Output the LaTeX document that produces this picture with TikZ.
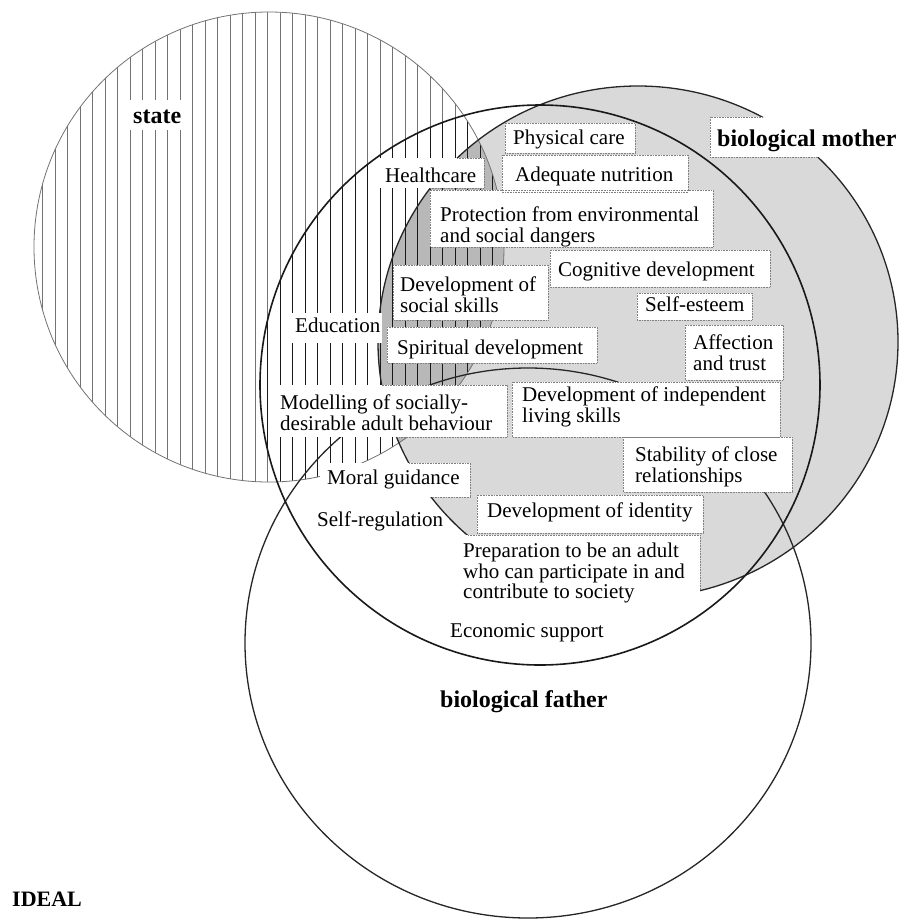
\documentclass[tikz,border=0pt]{standalone}
\usepackage{fontspec}
\setmainfont{Liberation Serif}
\begin{document}
\begin{tikzpicture}[x=1pt,y=-1pt,
  lbl/.style={anchor=north west, inner sep=0pt, align=left, font=\fontsize{21}{20.5}\selectfont},
  boldlbl/.style={anchor=base west, inner sep=0pt, font=\fontsize{24}{26}\selectfont\bfseries},
  wbox/.style={fill=white},
  boxedge/.style={draw=black!50, densely dotted, line width=0.6pt},
  motherfill/.style={fill=black!15},
  bothfill/.style={fill=black!28},
  hatchout/.style={draw=black!55, line width=0.7pt},
  hatchin/.style={draw=black!90, line width=0.9pt},
  stateline/.style={draw=black!55, line width=0.8pt},
  mainline/.style={draw=black!85, line width=1.3pt},
  midline/.style={draw=black!90, line width=1.6pt}]
\useasboundingbox (0,0) rectangle (905,922);
\fill[white] (0,0) rectangle (905,922);

% biological mother: stippled grey area
\fill[motherfill] (638,342) ellipse[x radius=260, y radius=256];
% state and mother overlap: darker
\begin{scope}
  \clip (269,247) circle[radius=235];
  \fill[bothfill] (638,342) ellipse[x radius=260, y radius=256];
\end{scope}

% state: vertical hatching
\begin{scope}
  \clip (269,247) circle[radius=235];
  \foreach \hx in {30,42.5,...,505} {\draw[hatchout] (\hx,0) -- (\hx,500);}
\end{scope}
\begin{scope}
  \clip (269,247) circle[radius=235];
  \clip (540,385) circle[radius=280];
  \foreach \hx in {30,42.5,...,505} {\draw[hatchin] (\hx,0) -- (\hx,500);}
\end{scope}

% outlines
\draw[stateline] (269,247) circle[radius=235];
\draw[mainline] (638,342) ellipse[x radius=260, y radius=256];
\draw[mainline] (528,643) ellipse[x radius=283, y radius=275];
\draw[midline] (540,385) circle[radius=280];

% white label boxes
\fill[wbox] (127,100) rectangle (185,130);
\fill[wbox] (505,123) rectangle (635,153);
\fill[wbox] (710,117) rectangle (905,157);
\fill[wbox] (380,158) rectangle (484,188);
\fill[wbox] (502,155) rectangle (688,192);
\fill[wbox] (430,190) rectangle (713,247);
\fill[wbox] (550,250) rectangle (770,287);
\fill[wbox] (393,265) rectangle (548,320);
\fill[wbox] (637,293) rectangle (752,320);
\fill[wbox] (290,313) rectangle (382,343);
\fill[wbox] (387,327) rectangle (597,363);
\fill[wbox] (685,325) rectangle (783,380);
\fill[wbox] (512,382) rectangle (780,437);
\fill[wbox] (275,385) rectangle (507,437);
\fill[wbox] (623,437) rectangle (792,492);
\fill[wbox] (320,463) rectangle (470,497);
\fill[wbox] (477,495) rectangle (703,533);
\fill[wbox] (455,535) rectangle (700,612);

% dotted box edges where they meet the stipple
\begin{scope}
  \clip (638,342) ellipse[x radius=260, y radius=256];
  \draw[boxedge] (505,123) rectangle (635,153);
  \draw[boxedge] (710,117) rectangle (905,157);
  \draw[boxedge] (380,158) rectangle (484,188);
  \draw[boxedge] (502,155) rectangle (688,192);
  \draw[boxedge] (430,190) rectangle (713,247);
  \draw[boxedge] (550,250) rectangle (770,287);
  \draw[boxedge] (393,265) rectangle (548,320);
  \draw[boxedge] (637,293) rectangle (752,320);
  \draw[boxedge] (387,327) rectangle (597,363);
  \draw[boxedge] (685,325) rectangle (783,380);
  \draw[boxedge] (512,382) rectangle (780,437);
  \draw[boxedge] (275,385) rectangle (507,437);
  \draw[boxedge] (623,437) rectangle (792,492);
  \draw[boxedge] (320,463) rectangle (470,497);
  \draw[boxedge] (477,495) rectangle (703,533);
  \draw[boxedge] (455,535) rectangle (700,612);
\end{scope}

% set labels
\node[boldlbl] (state) at (133,123) {state};
\node[boldlbl] (mother) at (717,146) {biological mother};
\node[boldlbl] (father) at (440,707) {biological father};
\node[boldlbl, font=\fontsize{22}{24}\selectfont\bfseries] (ideal) at (12,906) {IDEAL};

% needs
\node[lbl] (physical) at (513,130) {Physical care};
\node[lbl] (nutrition) at (515,167) {Adequate nutrition};
\node[lbl] (health) at (385,168) {Healthcare};
\node[lbl] (protection) at (440,207) {Protection from environmental\\and social dangers};
\node[lbl] (cognitive) at (558,262) {Cognitive development};
\node[lbl] (social) at (400,277) {Development of\\social skills};
\node[lbl] (esteem) at (645,297) {Self-esteem};
\node[lbl] (education) at (295,318) {Education};
\node[lbl] (spiritual) at (397,340) {Spiritual development};
\node[lbl] (affection) at (693,335) {Affection\\and trust};
\node[lbl] (living) at (522,387) {Development of independent\\living skills};
\node[lbl] (modelling) at (280,395) {Modelling of socially-\\desirable adult behaviour};
\node[lbl] (stability) at (635,447) {Stability of close\\relationships};
\node[lbl] (moral) at (327,470) {Moral guidance};
\node[lbl] (identity) at (487,503) {Development of identity};
\node[lbl] (selfreg) at (317,512) {Self-regulation};
\node[lbl] (prep) at (463,543) {Preparation to be an adult\\who can participate in and\\contribute to society};
\node[lbl] (economic) at (450,623) {Economic support};
\end{tikzpicture}
\end{document}
